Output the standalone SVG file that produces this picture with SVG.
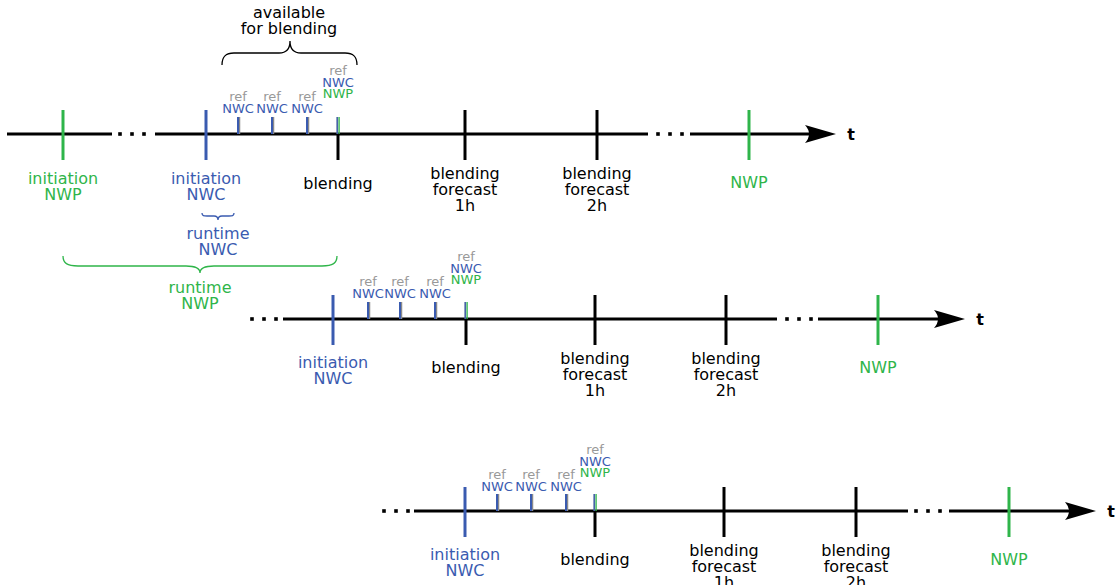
<svg xmlns="http://www.w3.org/2000/svg" width="1118" height="585" viewBox="0 0 1118 585">
<style>
text{font-family:"DejaVu Sans","Verdana",sans-serif;text-anchor:middle}
.l{font-size:16px}
.s{font-size:13px}
.k{fill:#000}
.g{fill:#2fb54a}
.b{fill:#3a5bb0}
.r{fill:#999}
.ax{stroke:#000;stroke-width:3;fill:none}
.tk{stroke:#000;stroke-width:3}
.tg{stroke:#2fb54a;stroke-width:3}
.tb{stroke:#3a5bb0;stroke-width:3}
.sb{stroke:#3a5bb0;stroke-width:2}
.sr{stroke:#8a8a8a;stroke-width:1.5}
.sg{stroke:#2fb54a;stroke-width:1.3}
.br{fill:none;stroke-width:1.3}
.t{font-size:16px;font-weight:bold}
</style>
<defs>
<path id="ah" d="M0,0 L-31,-9 Q-23,0 -31,9 Z" fill="#000"/>
<g id="dots"><rect x="-1.8" y="-1.8" width="3.6" height="3.6" fill="#000"/><rect x="10.2" y="-1.8" width="3.6" height="3.6" fill="#000"/><rect x="22.2" y="-1.8" width="3.6" height="3.6" fill="#000"/></g>
<g id="reftick"><line x1="1.5" y1="-17" x2="1.5" y2="0" class="sr"/><line x1="0" y1="-17" x2="0" y2="0" class="sb"/></g>
<g id="blendtick"><line x1="-0.6" y1="-17" x2="-0.6" y2="0" class="sr"/><line x1="-0.8" y1="-17" x2="-0.8" y2="0" stroke="#3a5bb0" stroke-width="1.3"/><line x1="1.1" y1="-17" x2="1.1" y2="0" class="sg"/><line x1="0" y1="0" x2="0" y2="26" class="tk"/></g>
</defs>

<g id="braces">
<path id="brace-available" class="br" stroke="#000" d="M222,65 C222,57 225,53 234,53 L279,53 C286,53 290,49 290,41 C290,49 294,53 301,53 L345,53 C354,53 357,57 357,65"/>
<text class="l k" x="289" y="18">available</text>
<text class="l k" x="289" y="34">for blending</text>
<path id="brace-runtime-nwc" class="br" stroke="#3a5bb0" d="M202,213 C202,216 204,216 207,216 L214,216 C217,216 218,217 218,220 C218,217 219,216 222,216 L229,216 C232,216 234,216 234,213"/>
<text class="l b" x="218" y="239">runtime</text>
<text class="l b" x="218" y="255">NWC</text>
<path id="brace-runtime-nwp" class="br" stroke="#2fb54a" d="M63,256 C63,263 67,266 78,266 L186,266 C195,266 200,268 200,273 C200,268 205,266 214,266 L322,266 C333,266 337,263 337,256"/>
<text class="l g" x="200" y="293">runtime</text>
<text class="l g" x="200" y="309">NWP</text>
</g>

<g id="row1" transform="translate(0,134)">
<g id="connectors-row1">
<path class="ax" d="M7,0 H112 M155,0 H648 M690,0 H812"/>
<use href="#dots" x="120" y="0"/>
<use href="#dots" x="658" y="0"/>
<use href="#ah" x="836" y="0"/>
<text class="t k" x="851" y="6">t</text>
</g>
<g id="r1-init-nwp"><line x1="63" y1="-24" x2="63" y2="26" class="tg"/><text class="l g" x="63" y="50">initiation</text><text class="l g" x="63" y="66">NWP</text></g>
<g id="r1-init-nwc"><line x1="206" y1="-24" x2="206" y2="26" class="tb"/><text class="l b" x="206" y="50">initiation</text><text class="l b" x="206" y="66">NWC</text></g>
<g id="r1-ref1"><use href="#reftick" x="238"/><text class="s r" x="238" y="-33">ref</text><text class="s b" x="238" y="-21">NWC</text></g>
<g id="r1-ref2"><use href="#reftick" x="272"/><text class="s r" x="272" y="-33">ref</text><text class="s b" x="272" y="-21">NWC</text></g>
<g id="r1-ref3"><use href="#reftick" x="307"/><text class="s r" x="307" y="-33">ref</text><text class="s b" x="307" y="-21">NWC</text></g>
<g id="r1-blend"><use href="#blendtick" x="338"/><text class="s r" x="338" y="-59">ref</text><text class="s b" x="338" y="-47">NWC</text><text class="s g" x="338" y="-36">NWP</text><text class="l k" x="338" y="55">blending</text></g>
<g id="r1-fc1"><line x1="465" y1="-24" x2="465" y2="26" class="tk"/><text class="l k" x="465" y="45">blending</text><text class="l k" x="465" y="61">forecast</text><text class="l k" x="465" y="77">1h</text></g>
<g id="r1-fc2"><line x1="597" y1="-24" x2="597" y2="26" class="tk"/><text class="l k" x="597" y="45">blending</text><text class="l k" x="597" y="61">forecast</text><text class="l k" x="597" y="77">2h</text></g>
<g id="r1-nwp"><line x1="749" y1="-24" x2="749" y2="26" class="tg"/><text class="l g" x="749" y="54">NWP</text></g>
</g>

<g id="row2" transform="translate(0,319)">
<g id="connectors-row2">
<path class="ax" d="M283,0 H777 M818,0 H941"/>
<use href="#dots" x="252" y="0"/>
<use href="#dots" x="787" y="0"/>
<use href="#ah" x="965" y="0"/>
<text class="t k" x="980" y="6">t</text>
</g>
<g id="r2-init-nwc"><line x1="333" y1="-24" x2="333" y2="26" class="tb"/><text class="l b" x="333" y="49">initiation</text><text class="l b" x="333" y="65">NWC</text></g>
<g id="r2-ref1"><use href="#reftick" x="368"/><text class="s r" x="368" y="-33">ref</text><text class="s b" x="368" y="-21">NWC</text></g>
<g id="r2-ref2"><use href="#reftick" x="400"/><text class="s r" x="400" y="-33">ref</text><text class="s b" x="400" y="-21">NWC</text></g>
<g id="r2-ref3"><use href="#reftick" x="435"/><text class="s r" x="435" y="-33">ref</text><text class="s b" x="435" y="-21">NWC</text></g>
<g id="r2-blend"><use href="#blendtick" x="466"/><text class="s r" x="466" y="-58">ref</text><text class="s b" x="466" y="-46">NWC</text><text class="s g" x="466" y="-35">NWP</text><text class="l k" x="466" y="54">blending</text></g>
<g id="r2-fc1"><line x1="595" y1="-24" x2="595" y2="26" class="tk"/><text class="l k" x="595" y="45">blending</text><text class="l k" x="595" y="61">forecast</text><text class="l k" x="595" y="77">1h</text></g>
<g id="r2-fc2"><line x1="726" y1="-24" x2="726" y2="26" class="tk"/><text class="l k" x="726" y="45">blending</text><text class="l k" x="726" y="61">forecast</text><text class="l k" x="726" y="77">2h</text></g>
<g id="r2-nwp"><line x1="878" y1="-24" x2="878" y2="26" class="tg"/><text class="l g" x="878" y="54">NWP</text></g>
</g>

<g id="row3" transform="translate(0,511)">
<g id="connectors-row3">
<path class="ax" d="M414,0 H908 M949,0 H1072"/>
<use href="#dots" x="384" y="0"/>
<use href="#dots" x="916" y="0"/>
<use href="#ah" x="1096" y="0"/>
<text class="t k" x="1111" y="6">t</text>
</g>
<g id="r3-init-nwc"><line x1="465" y1="-24" x2="465" y2="26" class="tb"/><text class="l b" x="465" y="49">initiation</text><text class="l b" x="465" y="65">NWC</text></g>
<g id="r3-ref1"><use href="#reftick" x="497"/><text class="s r" x="497" y="-32">ref</text><text class="s b" x="497" y="-20">NWC</text></g>
<g id="r3-ref2"><use href="#reftick" x="531"/><text class="s r" x="531" y="-32">ref</text><text class="s b" x="531" y="-20">NWC</text></g>
<g id="r3-ref3"><use href="#reftick" x="566"/><text class="s r" x="566" y="-32">ref</text><text class="s b" x="566" y="-20">NWC</text></g>
<g id="r3-blend"><use href="#blendtick" x="595"/><text class="s r" x="595" y="-57">ref</text><text class="s b" x="595" y="-45">NWC</text><text class="s g" x="595" y="-34">NWP</text><text class="l k" x="595" y="54">blending</text></g>
<g id="r3-fc1"><line x1="724" y1="-24" x2="724" y2="26" class="tk"/><text class="l k" x="724" y="45">blending</text><text class="l k" x="724" y="61">forecast</text><text class="l k" x="724" y="77">1h</text></g>
<g id="r3-fc2"><line x1="856" y1="-24" x2="856" y2="26" class="tk"/><text class="l k" x="856" y="45">blending</text><text class="l k" x="856" y="61">forecast</text><text class="l k" x="856" y="77">2h</text></g>
<g id="r3-nwp"><line x1="1009" y1="-24" x2="1009" y2="26" class="tg"/><text class="l g" x="1009" y="54">NWP</text></g>
</g>
</svg>
